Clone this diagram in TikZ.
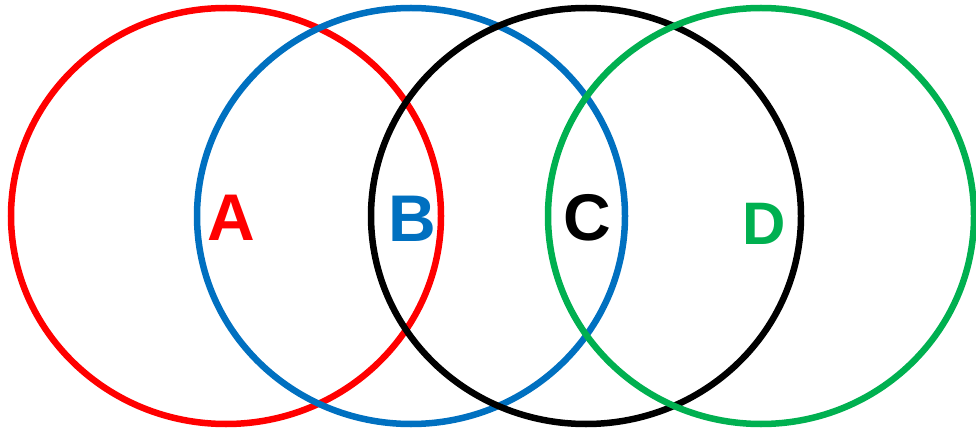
\documentclass[tikz,border=0pt]{standalone}
\usepackage{fontspec}
\setmainfont{Liberation Sans}
\usepackage{xcolor}
\usetikzlibrary{positioning}
\definecolor{setred}{HTML}{FF0000}
\definecolor{setblue}{HTML}{0070C0}
\definecolor{setgreen}{HTML}{00B050}
\tikzset{
  setring/.style={line width=6.5pt},
  setlabel/.style={inner sep=0pt,font=\fontsize{66}{66}\selectfont\bfseries}
}
\begin{document}
\begin{tikzpicture}[x=1pt,y=-1pt]
  \useasboundingbox (0,0) rectangle (976,430);
  % four overlapping sets
  \draw[setring,setred]   (226,216) ellipse [x radius=215,y radius=208];
  \draw[setring,setblue]  (411,216) ellipse [x radius=214,y radius=208];
  \draw[setring,black]    (586,216) ellipse [x radius=215,y radius=208];
  \draw[setring,setgreen] (761,216) ellipse [x radius=213,y radius=208];
  \node[setlabel,text=setred]   (labA) at (231.5,218) {A};
  \node[setlabel,text=setblue]  (labB) at (412.5,219) {B};
  \node[setlabel,text=black]    (labC) at (587.5,218) {C};
  \node[setlabel,text=setgreen,font=\fontsize{60}{60}\selectfont\bfseries] (labD) at (764,223.5) {D};
\end{tikzpicture}
\end{document}
